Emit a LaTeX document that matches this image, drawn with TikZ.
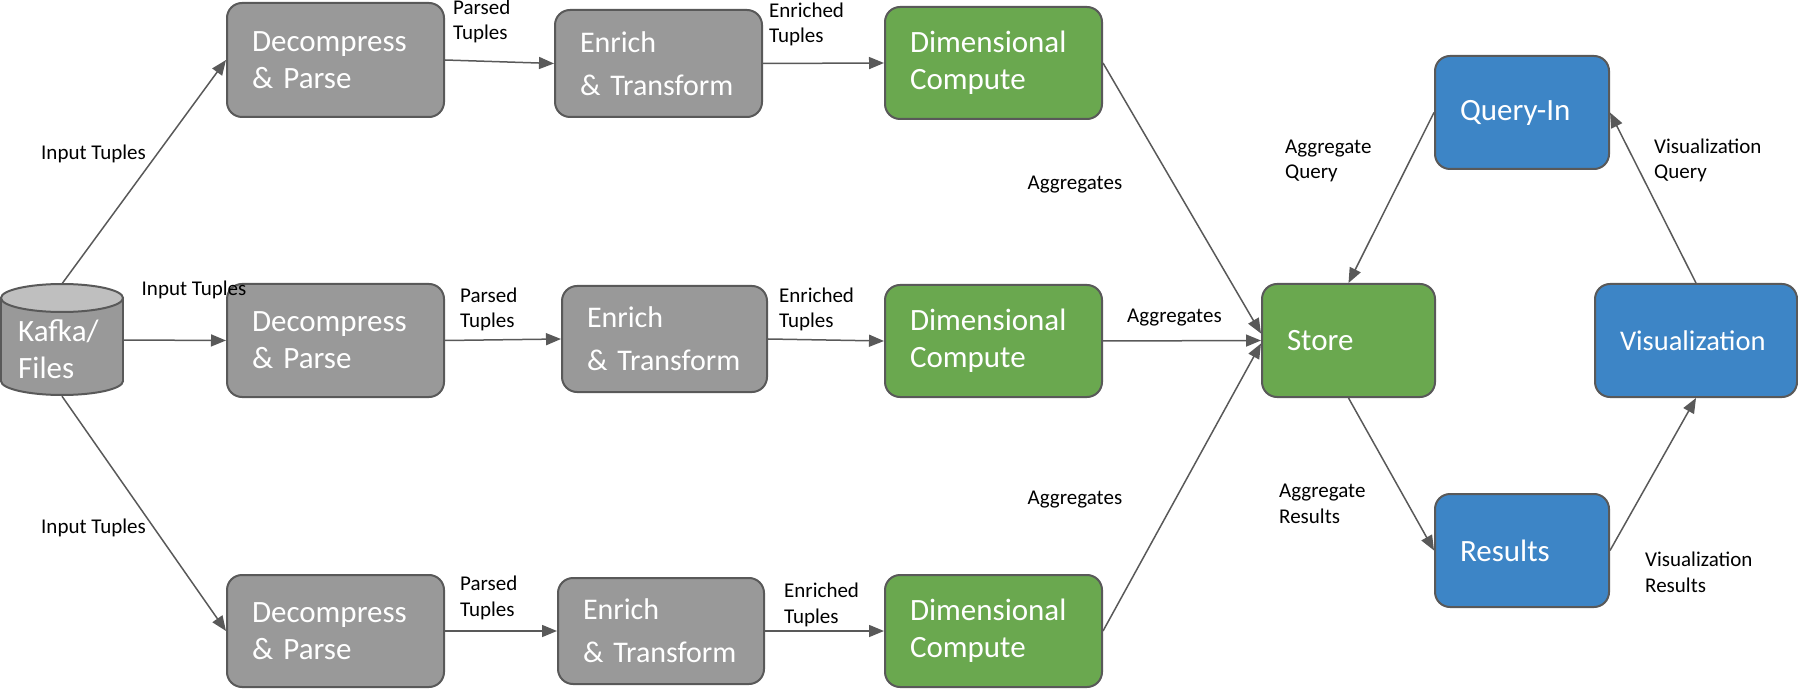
\documentclass[tikz,border=0pt]{standalone}
\usepackage{fontspec}
\setmainfont{Carlito}
\usetikzlibrary{arrows.meta,calc}

\definecolor{boxgray}{HTML}{999999}
\definecolor{boxgreen}{HTML}{6AA84F}
\definecolor{boxblue}{HTML}{3D85C6}
\definecolor{edgegray}{HTML}{595959}
\definecolor{linegray}{HTML}{595959}
\definecolor{lidgray}{HTML}{BFBFBF}

\tikzset{
  stage/.style={draw=edgegray, line width=2pt, rounded corners=15pt,
    text=white, align=left, inner xsep=25pt, inner ysep=0pt,
    font=\fontsize{31}{37}\selectfont},
  graybox/.style={stage, fill=boxgray},
  greenbox/.style={stage, fill=boxgreen},
  bluebox/.style={stage, fill=boxblue},
  enrichfont/.style={font=\fontsize{30}{36}\selectfont},
  flow/.style={draw=linegray, line width=1.5pt,
    -{Triangle[length=15pt,width=12pt]}},
  tag/.style={font=\fontsize{21}{25.5}\selectfont, align=left,
    anchor=base west, inner sep=0pt},
}

\begin{document}
\hyphenpenalty=10000
\exhyphenpenalty=10000
\begin{tikzpicture}[x=1pt,y=-1pt]
\useasboundingbox (0,0) rectangle (1798,692);

% source cylinder
\node[minimum width=122pt, minimum height=112pt, inner sep=0pt] (kafka) at (62,340) {};
\filldraw[fill=boxgray, draw=edgegray, line width=2pt] (62,381) ellipse[x radius=61, y radius=14];
\fill[boxgray] (1,298) rectangle (123,381);
\draw[edgegray, line width=2pt] (1,298) -- (1,381) (123,298) -- (123,381);
\filldraw[fill=lidgray, draw=edgegray, line width=2pt] (62,298) ellipse[x radius=61, y radius=14];
% the base of a multi-line node is the baseline of its last line
\node[text=white, font=\fontsize{31}{37}\selectfont, align=left, anchor=base west, inner sep=0pt]
  (kafkatext) at (18,378) {Kafka/\\Files};

% processing stages
\node[graybox, minimum width=217pt, minimum height=114pt, text width=167pt] (dp1) at (335.5,60) {Decompress\\\&~Parse};
\node[graybox, minimum width=217pt, minimum height=113pt, text width=167pt] (dp2) at (335.5,340.5) {Decompress\\\&~Parse};
\node[graybox, minimum width=217pt, minimum height=112pt, text width=167pt] (dp3) at (335.5,631) {Decompress\\\&~Parse};

\node[graybox, enrichfont, minimum width=207pt, minimum height=107pt, text width=157pt] (en1) at (658.5,63.5) {Enrich\\[7pt]\mbox{\&~Transform}};
\node[graybox, enrichfont, minimum width=205pt, minimum height=106pt, text width=155pt] (en2) at (664.5,339) {Enrich\\[7pt]\mbox{\&~Transform}};
\node[graybox, enrichfont, minimum width=206pt, minimum height=106pt, text width=156pt] (en3) at (661,631) {Enrich\\[7pt]\mbox{\&~Transform}};

\node[greenbox, minimum width=217pt, minimum height=112pt, text width=167pt] (dim1) at (993.5,63) {Dimensional\\Compute};
\node[greenbox, minimum width=217pt, minimum height=112pt, text width=167pt] (dim2) at (993.5,341) {Dimensional\\Compute};
\node[greenbox, minimum width=217pt, minimum height=112pt, text width=167pt] (dim3) at (993.5,631) {Dimensional\\Compute};

\node[greenbox, minimum width=173pt, minimum height=113pt, text width=123pt] (store) at (1348.5,340.5) {Store};
\node[bluebox, minimum width=174pt, minimum height=113pt, text width=124pt] (query) at (1522,112.5) {Query-In};
\node[bluebox, minimum width=174pt, minimum height=113pt, text width=124pt] (results) at (1522,550.5) {Results};
\node[bluebox, minimum width=202pt, minimum height=113pt, text width=152pt,
  font=\fontsize{28.5}{34}\selectfont] (vis) at (1696,340.5) {Visualization};

% connectors
\draw[flow] (kafka.north) -- (dp1.west);
\draw[flow] (kafka.east) -- (dp2.west);
\draw[flow] (kafka.south) -- (dp3.west);
\draw[flow] (dp1.east) -- (en1.west);
\draw[flow] (dp2.east) -- (en2.west);
\draw[flow] (dp3.east) -- (en3.west);
\draw[flow] (en1.east) -- (dim1.west);
\draw[flow] (en2.east) -- (dim2.west);
\draw[flow] (en3.east) -- (dim3.west);
\draw[flow] (dim1.east) -- ($(store.west)+(0,-7)$);
\draw[flow] (dim2.east) -- (store.west);
\draw[flow] (dim3.east) -- ($(store.west)+(0,3)$);
\draw[flow] (query.west) -- (store.north);
\draw[flow] (store.south) -- (results.west);
\draw[flow] (results.east) -- (vis.south);
\draw[flow] (vis.north) -- (query.east);

% connector labels (two-line labels are placed by their last baseline)
\node[tag] (t1) at (41,160) {Input Tuples};
\node[tag] (t2) at (141.5,296) {Input Tuples};
\node[tag] (t3) at (41,533) {Input Tuples};
\node[tag] (p1) at (453,40) {Parsed\\Tuples};
\node[tag] (p2) at (460,328) {Parsed\\Tuples};
\node[tag] (p3) at (460,616) {Parsed\\Tuples};
\node[tag] (e1) at (769,43) {Enriched\\Tuples};
\node[tag] (e2) at (779,328) {Enriched\\Tuples};
\node[tag] (e3) at (784,623) {Enriched\\Tuples};
\node[tag] (a1) at (1027.5,190) {Aggregates};
\node[tag] (a2) at (1127,323) {Aggregates};
\node[tag] (a3) at (1027.5,504) {Aggregates};
\node[tag] (aq) at (1285,179) {Aggregate\\Query};
\node[tag] (vq) at (1654,179) {Visualization\\Query};
\node[tag] (ar) at (1279,523) {Aggregate\\Results};
\node[tag] (vr) at (1645,592) {Visualization\\Results};
\end{tikzpicture}
\end{document}
